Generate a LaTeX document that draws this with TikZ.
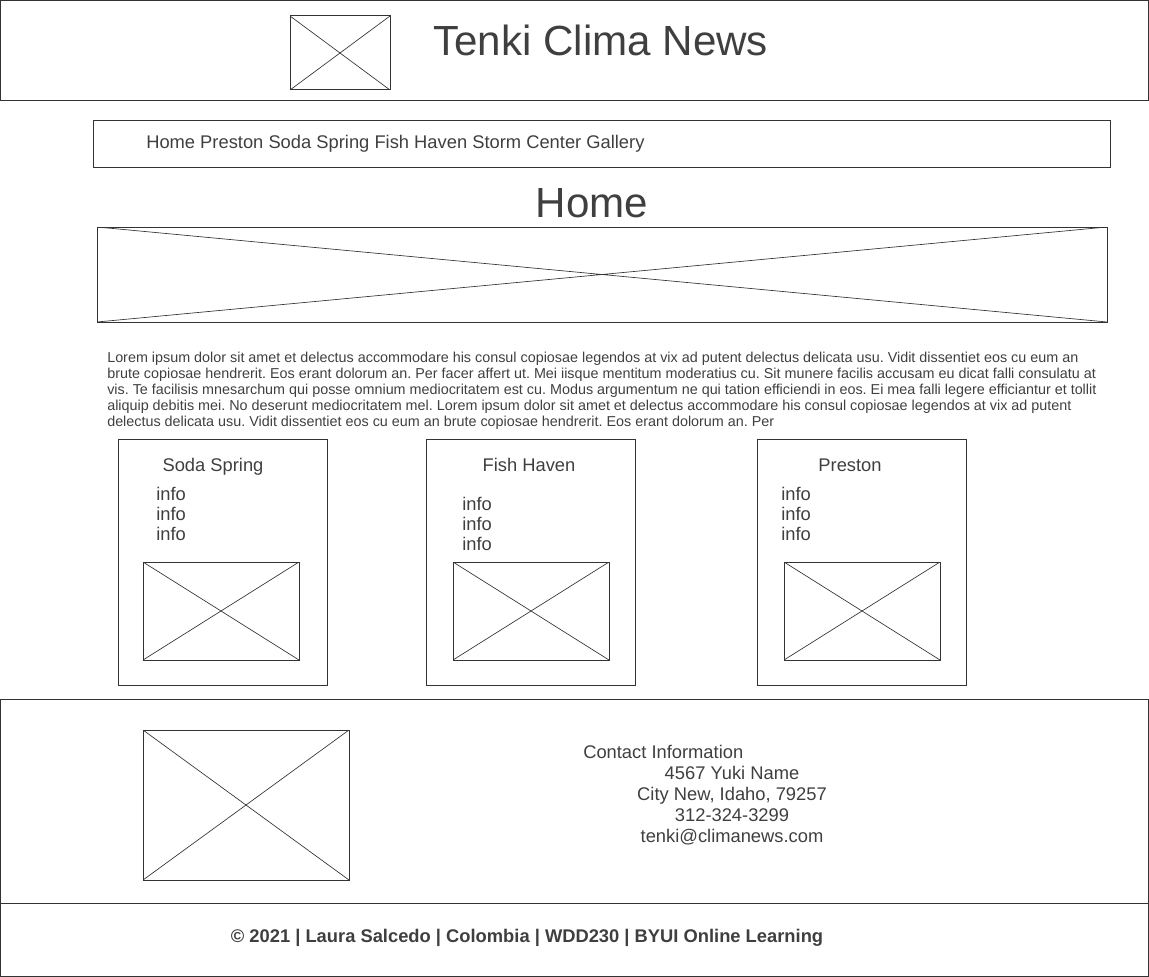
\documentclass[tikz,border=0pt]{standalone}
\usepackage{fontspec}
\setmainfont{Liberation Sans}
\definecolor{wline}{HTML}{333333}
\definecolor{wtext}{HTML}{3F3F3F}
\frenchspacing
\begin{document}
\begin{tikzpicture}[x={(0.75pt,0)},y={(0,-0.75pt)},
    every node/.style={inner sep=0pt,text=wtext},
    frame/.style={draw=wline,line width=0.75pt},
    imgbox/.style={draw=wline,line width=0.75pt,path picture={
        \draw[wline,line width=0.5pt]
            (path picture bounding box.north west) -- (path picture bounding box.south east)
            (path picture bounding box.south west) -- (path picture bounding box.north east);}},
    big/.style={font=\fontsize{31.6}{36}\selectfont},
    mid/.style={font=\fontsize{13.75}{16}\selectfont},
    small/.style={font=\fontsize{10.77}{12}\selectfont}]
    \useasboundingbox (0,0) rectangle (1149,977);
    \draw[frame] (0.5,1) rectangle (1148.5,101);
    \draw[imgbox] (290,16) rectangle (390,90);
    \node[big,anchor=base west] (title) at (433,56) {Tenki Clima News};
    \draw[frame] (93,121) rectangle (1110,168);
    \node[mid,anchor=base west] (menu) at (146,149)
        {Home Preston Soda Spring Fish Haven Storm Center Gallery};
    \node[big,anchor=base] (home) at (592,218) {Home};
    \draw[imgbox] (97,227) rectangle (1107,322);
    \foreach \ln [count=\i] in {
        {Lorem ipsum dolor sit amet et delectus accommodare his consul copiosae legendos at vix ad putent delectus delicata usu. Vidit dissentiet eos cu eum an},
        {brute copiosae hendrerit. Eos erant dolorum an. Per facer affert ut. Mei iisque mentitum moderatius cu. Sit munere facilis accusam eu dicat falli consulatu at},
        {vis. Te facilisis mnesarchum qui posse omnium mediocritatem est cu. Modus argumentum ne qui tation efficiendi in eos. Ei mea falli legere efficiantur et tollit},
        {aliquip debitis mei. No deserunt mediocritatem mel. Lorem ipsum dolor sit amet et delectus accommodare his consul copiosae legendos at vix ad putent},
        {delectus delicata usu. Vidit dissentiet eos cu eum an brute copiosae hendrerit. Eos erant dolorum an. Per}} {
        \node[small,anchor=base west] (lorem\i) at (107,346+16*\i) {\ln};
    }
    \foreach \cx/\tx/\cname/\ix/\iy/\px [count=\k] in
        {118/213/Soda Spring/156/500/143, 426/529/Fish Haven/462/510/453, 757/850/Preston/781/500/784} {
        \draw[frame] (\cx,439) rectangle (\cx+209,685);
        \node[mid,anchor=base] (card\k) at (\tx,471) {\cname};
        \foreach \j in {0,1,2} {
            \node[mid,anchor=base west] (info\k-\j) at (\ix,\iy+20*\j) {info};
        }
        \draw[imgbox] (\px,562) rectangle (\px+156,660);
    }
    \draw[frame] (0.5,699) rectangle (1148.5,903);
    \draw[imgbox] (143,730) rectangle (349,880);
    \node[mid,anchor=base west] (contact) at (583,758) {Contact Information};
    \foreach \ln [count=\i] in {4567 Yuki Name, {City New, Idaho, 79257}, 312-324-3299, tenki@climanews.com} {
        \node[mid,anchor=base] (addr\i) at (732,758+21*\i) {\ln};
    }
    \draw[frame] (0.5,903) rectangle (1148.5,976);
    \node[mid,font=\fontsize{13.75}{16}\selectfont\bfseries,anchor=base] (copy) at (527,942)
        {© 2021 | Laura Salcedo | Colombia | WDD230 | BYUI Online Learning};
\end{tikzpicture}
\end{document}
